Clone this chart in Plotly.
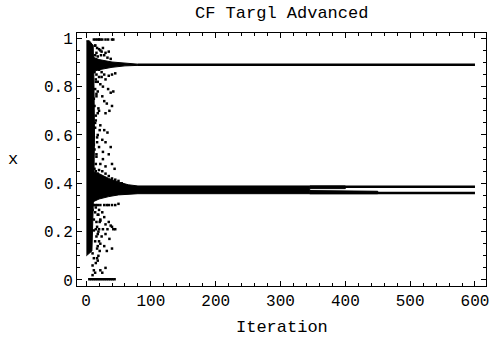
import plotly.graph_objects as go

# ---------------- data ----------------
# scattered early-iteration points
scatter_x = [12, 15, 18, 20, 22, 25, 30, 34, 40, 42,
             14, 17, 20, 22, 24, 26, 28, 30, 35, 14, 18, 33, 38,
             13, 16, 20, 24, 28, 30, 35, 40, 45, 15, 22, 26, 34, 38, 42, 18, 25, 28, 32, 12, 20, 30, 36, 40, 15,
             14, 22, 28, 33, 18, 25, 30, 12, 20, 38, 35, 26, 16, 22, 30, 40, 44, 13,
             15, 20, 25, 30, 35, 40, 45, 50, 55, 18,
             12, 15, 18, 22, 28, 32, 35, 40, 45, 50,
             10, 14, 18, 20, 25, 28, 12, 16, 22, 30, 35, 38, 40, 42, 45, 33, 26, 20, 15, 12,
             18, 24, 30, 36, 22, 28, 32, 40, 14, 17, 10, 12, 15, 18, 10, 12, 14, 10, 22, 30, 25,
             5, 8, 11, 14, 17, 20, 23, 26, 29, 32, 35, 38, 41, 44,
             14, 16, 13, 17, 15, 14, 16, 13, 18, 15, 14, 17, 13, 16, 15, 14, 17, 13, 16, 15,
             19, 21, 17, 19, 16, 20, 18, 21, 19, 17, 20, 18, 16, 19, 21, 17, 23, 24, 26, 22]
scatter_y = [0.995, 0.995, 0.995, 0.995, 0.995, 0.995, 0.995, 0.995, 0.995, 0.995,
             0.97, 0.96, 0.955, 0.95, 0.945, 0.96, 0.93, 0.94, 0.945, 0.93, 0.925, 0.92, 0.915,
             0.86, 0.85, 0.84, 0.84, 0.85, 0.83, 0.845, 0.85, 0.855, 0.82, 0.81, 0.80, 0.79, 0.775, 0.78, 0.78, 0.76, 0.74, 0.73, 0.75, 0.70, 0.69, 0.70, 0.72, 0.68,
             0.65, 0.64, 0.62, 0.61, 0.60, 0.58, 0.57, 0.56, 0.55, 0.55, 0.52, 0.50, 0.52, 0.48, 0.47, 0.48, 0.46, 0.46,
             0.45, 0.455, 0.45, 0.44, 0.43, 0.42, 0.415, 0.41, 0.40, 0.44,
             0.31, 0.31, 0.31, 0.31, 0.31, 0.31, 0.31, 0.31, 0.31, 0.315,
             0.29, 0.28, 0.27, 0.29, 0.28, 0.26, 0.25, 0.24, 0.245, 0.23, 0.24, 0.225, 0.22, 0.21, 0.21, 0.21, 0.21, 0.21, 0.21, 0.205,
             0.19, 0.18, 0.19, 0.17, 0.15, 0.14, 0.12, 0.13, 0.16, 0.13, 0.11, 0.09, 0.07, 0.08, 0.06, 0.04, 0.03, 0.02, 0.04, 0.05, 0.03,
             0.003, 0.003, 0.003, 0.003, 0.003, 0.003, 0.003, 0.003, 0.003, 0.003, 0.003, 0.003, 0.003, 0.003,
             0.97, 0.94, 0.91, 0.88, 0.83, 0.79, 0.76, 0.72, 0.69, 0.66, 0.63, 0.59, 0.54, 0.51, 0.48, 0.43, 0.40, 0.37, 0.34, 0.30,
             0.27, 0.24, 0.22, 0.20, 0.18, 0.16, 0.14, 0.12, 0.10, 0.09, 0.87, 0.82, 0.77, 0.71, 0.62, 0.57, 0.93, 0.86, 0.53, 0.25]

# dense column of the first iterations
column_x = [0.5, 9, 12, 13, 12, 11, 5, 0.5]
column_y = [0.10, 0.12, 0.40, 0.60, 0.85, 0.97, 0.99, 0.99]

# funnel converging to the upper attractor
upper_funnel_x = [8, 20, 40, 60, 80, 80, 60, 40, 20, 8]
upper_funnel_y = [0.925, 0.912, 0.902, 0.896, 0.893, 0.888, 0.886, 0.880, 0.870, 0.86]

# upper converged line
upper_line_x = [80, 600]
upper_line_y = [0.891, 0.891]

# funnel + dense band converging to the lower attractor
lower_band_x = [8, 20, 35, 50, 65, 80, 345, 345, 80, 65, 50, 35, 20, 8]
lower_band_y = [0.45, 0.44, 0.42, 0.405, 0.394, 0.389, 0.389, 0.357, 0.357, 0.356, 0.352, 0.345, 0.335, 0.32]

# band pieces where the two lower orbits separate
split_upper_x = [345, 400, 400, 345]
split_upper_y = [0.389, 0.389, 0.378, 0.378]
split_lower_x = [345, 450, 450, 345]
split_lower_y = [0.370, 0.367, 0.357, 0.357]

# two lower converged lines
lower_line1_x = [345, 600]
lower_line1_y = [0.386, 0.386]
lower_line2_x = [345, 600]
lower_line2_y = [0.360, 0.360]

x_ticks = [0, 100, 200, 300, 400, 500, 600]
y_ticks = [0, 0.2, 0.4, 0.6, 0.8, 1]
y_tick_text = ["0", "0.2", "0.4", "0.6", "0.8", "1"]

FONT = "Courier New, Liberation Mono, DejaVu Sans Mono, monospace"

fig = go.Figure()

def poly(xs, ys):
    fig.add_trace(go.Scatter(x=xs, y=ys, mode="lines", fill="toself",
                             fillcolor="black", line=dict(color="black", width=1),
                             hoverinfo="skip", showlegend=False))

poly(column_x, column_y)
poly(upper_funnel_x, upper_funnel_y)
poly(lower_band_x, lower_band_y)
poly(split_upper_x, split_upper_y)
poly(split_lower_x, split_lower_y)

for lx, ly in [(upper_line_x, upper_line_y), (lower_line1_x, lower_line1_y), (lower_line2_x, lower_line2_y)]:
    fig.add_trace(go.Scatter(x=lx, y=ly, mode="lines", line=dict(color="black", width=2.5),
                             showlegend=False))

fig.add_trace(go.Scatter(x=scatter_x, y=scatter_y, mode="markers",
                         marker=dict(symbol="square", size=2.5, color="black"),
                         showlegend=False))

fig.update_layout(
    width=496, height=341,
    margin=dict(l=77, r=7, t=33, b=55),
    paper_bgcolor="white", plot_bgcolor="white",
    font=dict(family=FONT, size=15, color="black"),
    showlegend=False,
)
fig.update_xaxes(range=[-14, 617], tickvals=x_ticks, ticktext=[str(v) for v in x_ticks],
                 showgrid=False, zeroline=False, showline=True, linecolor="black", linewidth=1,
                 mirror="allticks", ticks="inside", ticklen=5, tickcolor="black",
                 minor=dict(dtick=20, tick0=0, ticks="inside", ticklen=3, tickcolor="black", showgrid=False),
                 tickfont=dict(family=FONT, size=16))
fig.update_yaxes(range=[-0.025, 1.022], tickvals=y_ticks, ticktext=y_tick_text,
                 showgrid=False, zeroline=False, showline=True, linecolor="black", linewidth=1,
                 mirror="allticks", ticks="inside", ticklen=5, tickcolor="black",
                 minor=dict(dtick=0.05, tick0=0, ticks="inside", ticklen=3, tickcolor="black", showgrid=False),
                 tickfont=dict(family=FONT, size=16))

fig.add_annotation(text="CF Targl Advanced", x=0.5, y=1, xref="paper", yref="paper",
                   xanchor="center", yanchor="bottom", yshift=8, showarrow=False,
                   font=dict(family=FONT, size=17))
fig.add_annotation(text="Iteration", x=0.5, y=0, xref="paper", yref="paper",
                   xanchor="center", yanchor="top", yshift=-30, showarrow=False,
                   font=dict(family=FONT, size=17))
fig.add_annotation(text="x", x=0, y=0.5, xref="paper", yref="paper",
                   xanchor="right", yanchor="middle", xshift=-57, showarrow=False,
                   font=dict(family=FONT, size=17))

fig.write_html("out.html")
